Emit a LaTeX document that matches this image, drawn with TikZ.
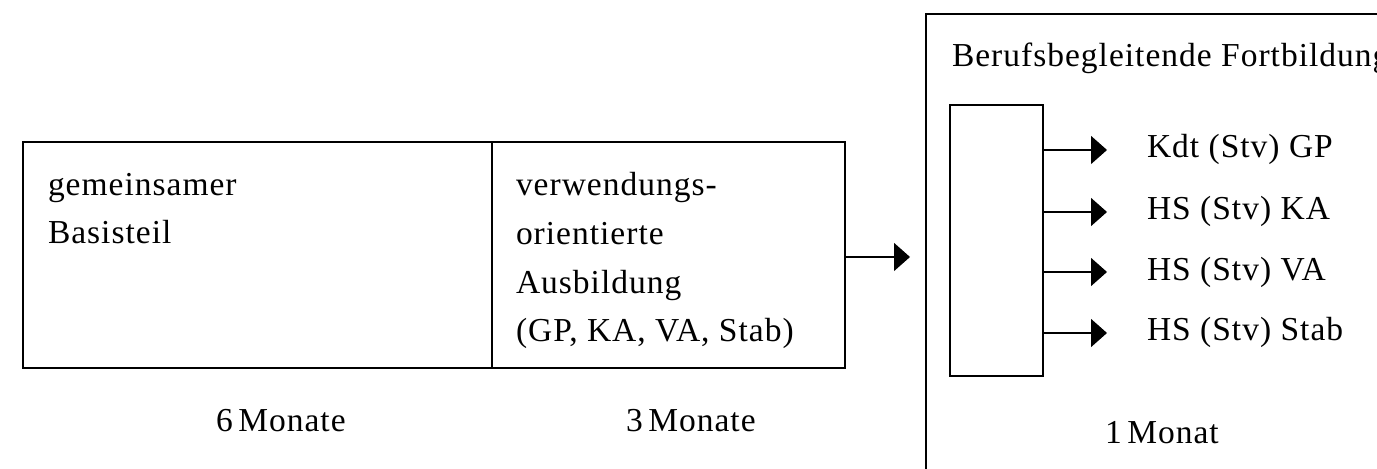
\documentclass[tikz,border=0pt]{standalone}
\usepackage{fontspec}
\setmainfont{Liberation Serif}[LetterSpace=3]
\usetikzlibrary{arrows.meta}
\begin{document}
\begin{tikzpicture}[x=0.5pt,y=-0.5pt,
  every node/.style={inner sep=0pt,outer sep=0pt,font=\fontsize{16.75}{24.4}\selectfont},
  boxline/.style={draw,line width=0.75pt},
  txt/.style={anchor=base west,align=left},
  arr/.style={line width=0.75pt,-{Triangle[length=8pt,width=14pt]}}]
\useasboundingbox (0,0) rectangle (1377,469);
\clip (0,0) rectangle (1377,469);
% left box
\node[boxline,anchor=north west,minimum width=411pt,minimum height=113pt] (ausb) at (23,142) {};
\coordinate (divt) at (492,142);
\coordinate (divb) at (492,368);
\draw[line width=0.75pt] (divt) -- (divb);
\node[txt] (basis) at (48,244) {gemeinsamer\\Basisteil};
\node[txt] (verw) at (516,342) {verwendungs-\\orientierte\\Ausbildung\\(GP, KA, VA, Stab)};
\node[txt] (m6) at (216,432) {6\,Monate};
\node[txt] (m3) at (626,432) {3\,Monate};
% outer box
\coordinate (otr) at (1400,14);
\coordinate (otl) at (926,14);
\coordinate (obl) at (926,490);
\draw[line width=1pt] (otr) -- (otl) -- (obl);
\node[txt] (fort) at (952,67) {Berufsbegleitende Fortbildung};
\coordinate (tip0) at (910,257);
\draw[arr] (ausb.east |- tip0) -- (tip0);
% inner box
\node[boxline,anchor=north west,minimum width=46.5pt,minimum height=135.5pt] (inner) at (950,105) {};
\coordinate (t1) at (1107,150);
\coordinate (t2) at (1107,212);
\coordinate (t3) at (1107,272);
\coordinate (t4) at (1107,333);
\draw[arr] (inner.east |- t1) -- (t1);
\draw[arr] (inner.east |- t2) -- (t2);
\draw[arr] (inner.east |- t3) -- (t3);
\draw[arr] (inner.east |- t4) -- (t4);
\node[txt] (l1) at (1147,158) {Kdt (Stv) GP};
\node[txt] (l2) at (1147,220) {HS (Stv) KA};
\node[txt] (l3) at (1147,281) {HS (Stv) VA};
\node[txt] (l4) at (1147,341) {HS (Stv) Stab};
\node[txt] (m1) at (1105,444) {1\,Monat};
\end{tikzpicture}
\end{document}
